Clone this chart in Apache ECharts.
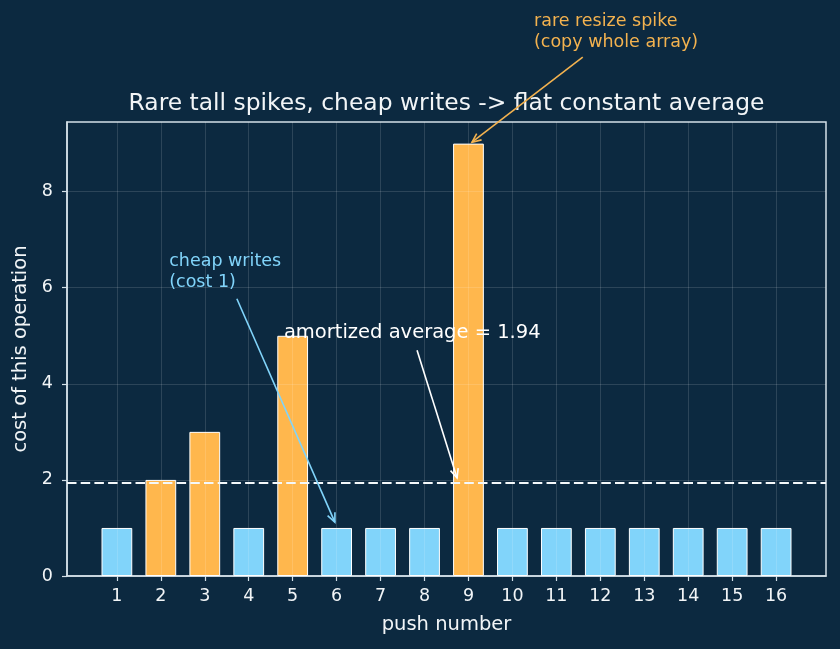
<!DOCTYPE html>
<html>
<head>
<meta charset="utf-8">
<script src="https://cdn.jsdelivr.net/npm/echarts@6/dist/echarts.min.js"></script>
<style>
html,body{margin:0;padding:0;background:#0c2940;}
#chart{width:840px;height:649px;}
</style>
</head>
<body>
<div id="chart"></div>
<script>
// ---- data ----
const pushNumbers = [1,2,3,4,5,6,7,8,9,10,11,12,13,14,15,16];
const costs = [1,2,3,1,5,1,1,1,9,1,1,1,1,1,1,1];
const isResize = [false,true,true,false,true,false,false,false,true,false,false,false,false,false,false,false];
const amortizedAverage = 1.94;
const yTicks = [0,2,4,6,8];
const xRange = [-0.135, 17.135];
const yRange = [0, 9.45];

const titleText = 'Rare tall spikes, cheap writes -> flat constant average';
const xName = 'push number';
const yName = 'cost of this operation';

// annotations: text anchor (left, vertical middle of block), arrow start, arrow end (data coords)
const noteResize = { text: 'rare resize spike\n(copy whole array)', at: [10.49, 11.33], from: [11.60, 10.80], to: [9.08, 9.03] };
const noteCheap  = { text: 'cheap writes\n(cost 1)', at: [2.19, 6.32], from: [3.73, 5.77], to: [5.96, 1.12] };
const noteAvg    = { text: 'amortized average = 1.94', at: [4.80, 5.06], from: [7.83, 4.70], to: [8.74, 2.04] };

const BG = '#0c2940';
const BLUE = '#81d4fa';
const ORANGE = '#ffb74d';
const NOTE_ORANGE = '#f3b24f';
const FG = '#f2f5f7';
const SPINE = '#d3e0e8';
const GRIDC = 'rgba(255,255,255,0.17)';
const FONT = 'DejaVu Sans';

const chart = echarts.init(document.getElementById('chart'), null, {renderer:'canvas'});

const barData = pushNumbers.map((x, i) => ({
  value: [x, costs[i]],
  itemStyle: { color: isResize[i] ? ORANGE : BLUE }
}));

const gridLineData = pushNumbers.map(x => ({ xAxis: x }))
  .concat(yTicks.filter(v => v > 0).map(v => ({ yAxis: v })));

const option = {
  backgroundColor: BG,
  animation: false,
  textStyle: { fontFamily: FONT },
  title: {
    text: titleText,
    left: 441.5,
    top: 87,
    textAlign: 'center',
    textStyle: { color: FG, fontSize: 23.4, fontWeight: 'normal', fontFamily: FONT }
  },
  grid: {
    left: 67, right: 14, top: 122, bottom: 73,
    show: true, borderColor: SPINE, borderWidth: 1.5, backgroundColor: 'transparent'
  },
  xAxis: {
    type: 'value',
    min: xRange[0], max: xRange[1],
    name: xName, nameLocation: 'middle', nameGap: 39,
    nameTextStyle: { color: FG, fontSize: 19.5, fontFamily: FONT },
    axisLine: { show: true, onZero: false, lineStyle: { color: SPINE, width: 1.5 } },
    axisTick: { show: true, length: 5, customValues: pushNumbers, lineStyle: { color: SPINE, width: 1.2 } },
    axisLabel: { customValues: pushNumbers, color: FG, fontSize: 17.5, margin: 11, fontFamily: FONT },
    splitLine: { show: false }
  },
  yAxis: {
    type: 'value',
    min: yRange[0], max: yRange[1],
    name: yName, nameLocation: 'middle', nameGap: 35, nameRotate: 90,
    nameTextStyle: { color: FG, fontSize: 19.5, fontFamily: FONT },
    axisLine: { show: true, onZero: false, lineStyle: { color: SPINE, width: 1.5 } },
    axisTick: { show: true, length: 5, customValues: yTicks, lineStyle: { color: SPINE, width: 1.2 } },
    axisLabel: { customValues: yTicks, color: FG, fontSize: 17.5, margin: 14, fontFamily: FONT },
    splitLine: { show: false }
  },
  series: [{
    type: 'bar',
    z: 2,
    data: barData,
    barWidth: '70%',
    itemStyle: { borderColor: '#ffffff', borderWidth: 1 }
  }, {
    type: 'scatter',
    z: 3,
    data: [],
    silent: true,
    markLine: {
      silent: true,
      animation: false,
      label: { show: false },
      symbol: ['none', 'none'],
      lineStyle: { color: GRIDC, width: 0.8, type: 'solid' },
      data: gridLineData
    }
  }, {
    type: 'scatter',
    z: 4,
    data: [],
    silent: true,
    markLine: {
      silent: true,
      animation: false,
      label: { show: false },
      symbol: ['none', 'none'],
      lineStyle: { color: '#f4f8fa', width: 2.2, type: [9.5, 4.2] },
      data: [{ yAxis: amortizedAverage }]
    }
  }]
};

chart.setOption(option);

function px(p) { return chart.convertToPixel({ gridIndex: 0 }, p); }

function textEl(note, color, size) {
  const p = px(note.at);
  return {
    type: 'text', x: p[0], y: p[1], z: 100,
    style: { text: note.text, fill: color, font: size + 'px "' + FONT + '"', align: 'left', verticalAlign: 'middle', lineHeight: Math.round(size * 1.2) }
  };
}

function arrowEls(note, color) {
  const a = px(note.from), b = px(note.to);
  const dx = b[0] - a[0], dy = b[1] - a[1];
  const len = Math.sqrt(dx * dx + dy * dy);
  const ux = dx / len, uy = dy / len;
  const hl = 9, hw = 4;
  const bx = b[0] - ux * hl, by = b[1] - uy * hl;
  const l = [bx - uy * hw, by + ux * hw], r = [bx + uy * hw, by - ux * hw];
  return [
    { type: 'line', z: 99, shape: { x1: a[0], y1: a[1], x2: b[0], y2: b[1] }, style: { stroke: color, lineWidth: 1.6 } },
    { type: 'polyline', z: 99, shape: { points: [l, b, r] }, style: { stroke: color, lineWidth: 1.6, fill: null } }
  ];
}

chart.setOption({
  graphic: [
    textEl(noteResize, NOTE_ORANGE, 17.5),
    textEl(noteCheap, BLUE, 17.5),
    textEl(noteAvg, '#ffffff', 19.5)
  ].concat(arrowEls(noteResize, NOTE_ORANGE), arrowEls(noteCheap, BLUE), arrowEls(noteAvg, '#ffffff'))
});
</script>
</body>
</html>
